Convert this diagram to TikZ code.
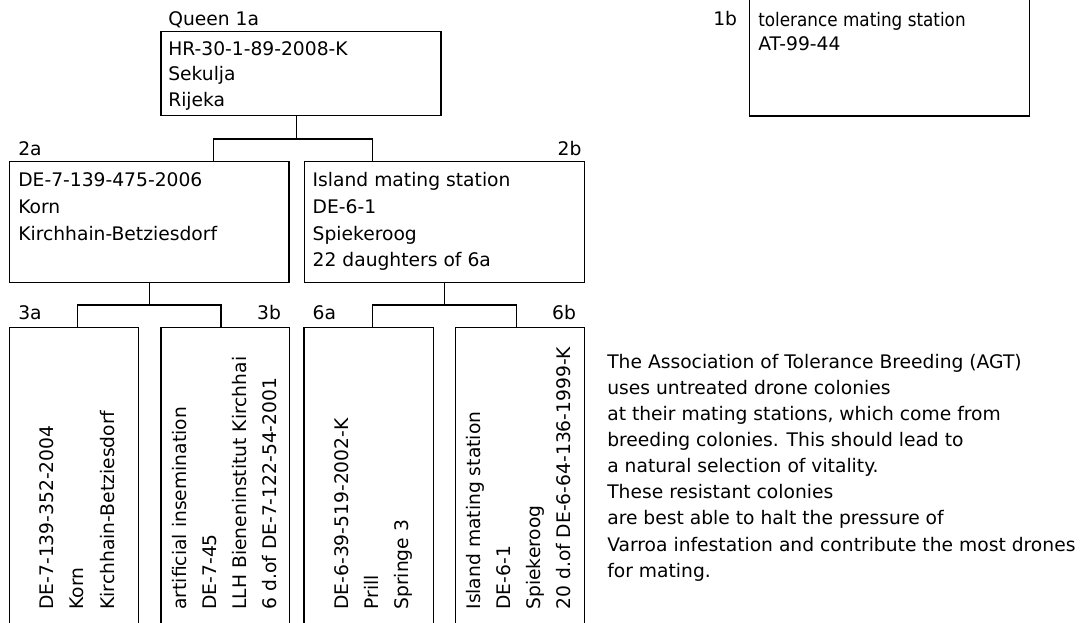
\documentclass[tikz,border=0pt]{standalone}
\usepackage{fontspec}
\setmainfont{DejaVu Sans}
\newfontfamily\condfont{DejaVu Sans}[FakeStretch=0.90]
\begin{document}
\begin{tikzpicture}[x=1pt,y=-1pt,
  box/.style={draw=black, line width=1.3pt, inner sep=0pt, outer sep=0pt, anchor=north west},
  conn/.style={draw=black, line width=1.3pt},
  txt/.style={inner sep=0pt, outer sep=0pt, anchor=base west, font=\fontsize{18.7}{22}\selectfont},
  txtr/.style={txt, anchor=base east},
  vtxt/.style={txt, rotate=90, anchor=base west}]
\useasboundingbox (0,0) rectangle (1081,622);
\clip (0,0) rectangle (1081,622);
\fill[white] (0,0) rectangle (1081,622);

% boxes
\node[box, minimum width=280pt, minimum height=84pt] (queen) at (161,31.7) {};
\node[box, minimum width=280.2pt, minimum height=121pt] (n1b) at (749.3,-5) {};
\node[box, minimum width=279.7pt, minimum height=120.6pt] (n2a) at (9.3,161.7) {};
\node[box, minimum width=280pt, minimum height=120.6pt] (n2b) at (304.3,161.7) {};
\node[box, minimum width=129pt, minimum height=310pt] (n3a) at (9.3,327.7) {};
\node[box, minimum width=128.3pt, minimum height=310pt] (n3b) at (161,327.7) {};
\node[box, minimum width=129.3pt, minimum height=310pt] (n6a) at (304,327.7) {};
\node[box, minimum width=128.6pt, minimum height=310pt] (n6b) at (455.7,327.7) {};

% connectors
\coordinate (jq) at (296.7,139);
\coordinate (l2a) at (213.3,139);
\coordinate (l2b) at (372.3,139);
\draw[conn] (jq |- queen.south) -- (jq);
\draw[conn] (l2a |- n2a.north) -- (l2a) -- (l2b) -- (l2b |- n2b.north);

\coordinate (ja) at (149.3,305);
\coordinate (l3a) at (77.7,305);
\coordinate (l3b) at (221,305);
\draw[conn] (ja |- n2a.south) -- (ja);
\draw[conn] (l3a |- n3a.north) -- (l3a) -- (l3b) -- (l3b |- n3b.north);

\coordinate (jb) at (444.3,305);
\coordinate (l6a) at (372.7,305);
\coordinate (l6b) at (516.7,305);
\draw[conn] (jb |- n2b.south) -- (jb);
\draw[conn] (l6a |- n6a.north) -- (l6a) -- (l6b) -- (l6b |- n6b.north);

% labels
\node[txt] (lbq) at (168.3,25) {Queen 1a};
\node[txt] (lb1b) at (713.3,25.5) {1b};
\node[txt] (lb2a) at (18.3,155) {2a};
\node[txtr] (lb2b) at (581.4,155) {2b};
\node[txt] (lb3a) at (18.3,319.3) {3a};
\node[txtr] (lb3b) at (281,319.3) {3b};
\node[txt] (lb6a) at (312.7,319.3) {6a};
\node[txtr] (lb6b) at (576,319.3) {6b};

% queen text
\node[txt] (q1) at (168.3,55) {HR-30-1-89-2008-K};
\node[txt] (q2) at (168.3,80.5) {Sekulja};
\node[txt] (q3) at (168.3,106) {Rijeka};

% 1b text
\node[txt] (b1) at (758.3,26) {\condfont tolerance mating station};
\node[txt] (b2) at (758.3,50) {AT-99-44};

% 2a text
\node[txt] (a1) at (18.3,186.7) {DE-7-139-475-2006};
\node[txt] (a2) at (18.3,213.3) {Korn};
\node[txt] (a3) at (18.3,240) {Kirchhain-Betziesdorf};

% 2b text
\node[txt] (c1) at (312.7,186.7) {Island mating station};
\node[txt] (c2) at (312.7,213.3) {DE-6-1};
\node[txt] (c3) at (312.7,240) {Spiekeroog};
\node[txt] (c4) at (312.7,266.7) {22 daughters of 6a};

% 3a text (rotated)
\node[vtxt] (d1) at (53.3,609.5) {DE-7-139-352-2004};
\node[vtxt] (d2) at (83.7,609.5) {Korn};
\node[vtxt] (d3) at (114.1,609.5) {Kirchhain-Betziesdorf};

% 3b text
\node[vtxt] (e1) at (186.7,609.5) {artificial insemination};
\node[vtxt] (e2) at (216.7,609.5) {DE-7-45};
\node[vtxt] (e3) at (246.7,609.5) {LLH Bieneninstitut Kirchhai};
\node[vtxt] (e4) at (276.7,609.5) {6 d.of DE-7-122-54-2001};

% 6a text
\node[vtxt] (f1) at (348.3,609.5) {DE-6-39-519-2002-K};
\node[vtxt] (f2) at (378.3,609.5) {Prill};
\node[vtxt] (f3) at (408.3,609.5) {Springe 3};

% 6b text
\node[vtxt] (g1) at (480,609.5) {Island mating station};
\node[vtxt] (g2) at (510,609.5) {DE-6-1};
\node[vtxt] (g3) at (540,609.5) {Spiekeroog};
\node[vtxt] (g4) at (570,609.5) {20 d.of DE-6-64-136-1999-K};

% paragraph
\node[txt] (p1) at (607.3,368.3) {The Association of Tolerance Breeding (AGT)};
\node[txt] (p2) at (607.3,394.4) {uses untreated drone colonies};
\node[txt] (p3) at (607.3,420.5) {at their mating stations, which come from};
\node[txt] (p4) at (607.3,446.6) {breeding colonies. This should lead to};
\node[txt] (p5) at (607.3,472.7) {a natural selection of vitality.};
\node[txt] (p6) at (607.3,498.8) {These resistant colonies};
\node[txt] (p7) at (607.3,524.9) {are best able to halt the pressure of};
\node[txt] (p8) at (607.3,551.0) {Varroa infestation and contribute the most drones};
\node[txt] (p9) at (607.3,577.1) {for mating.};
\end{tikzpicture}
\end{document}
